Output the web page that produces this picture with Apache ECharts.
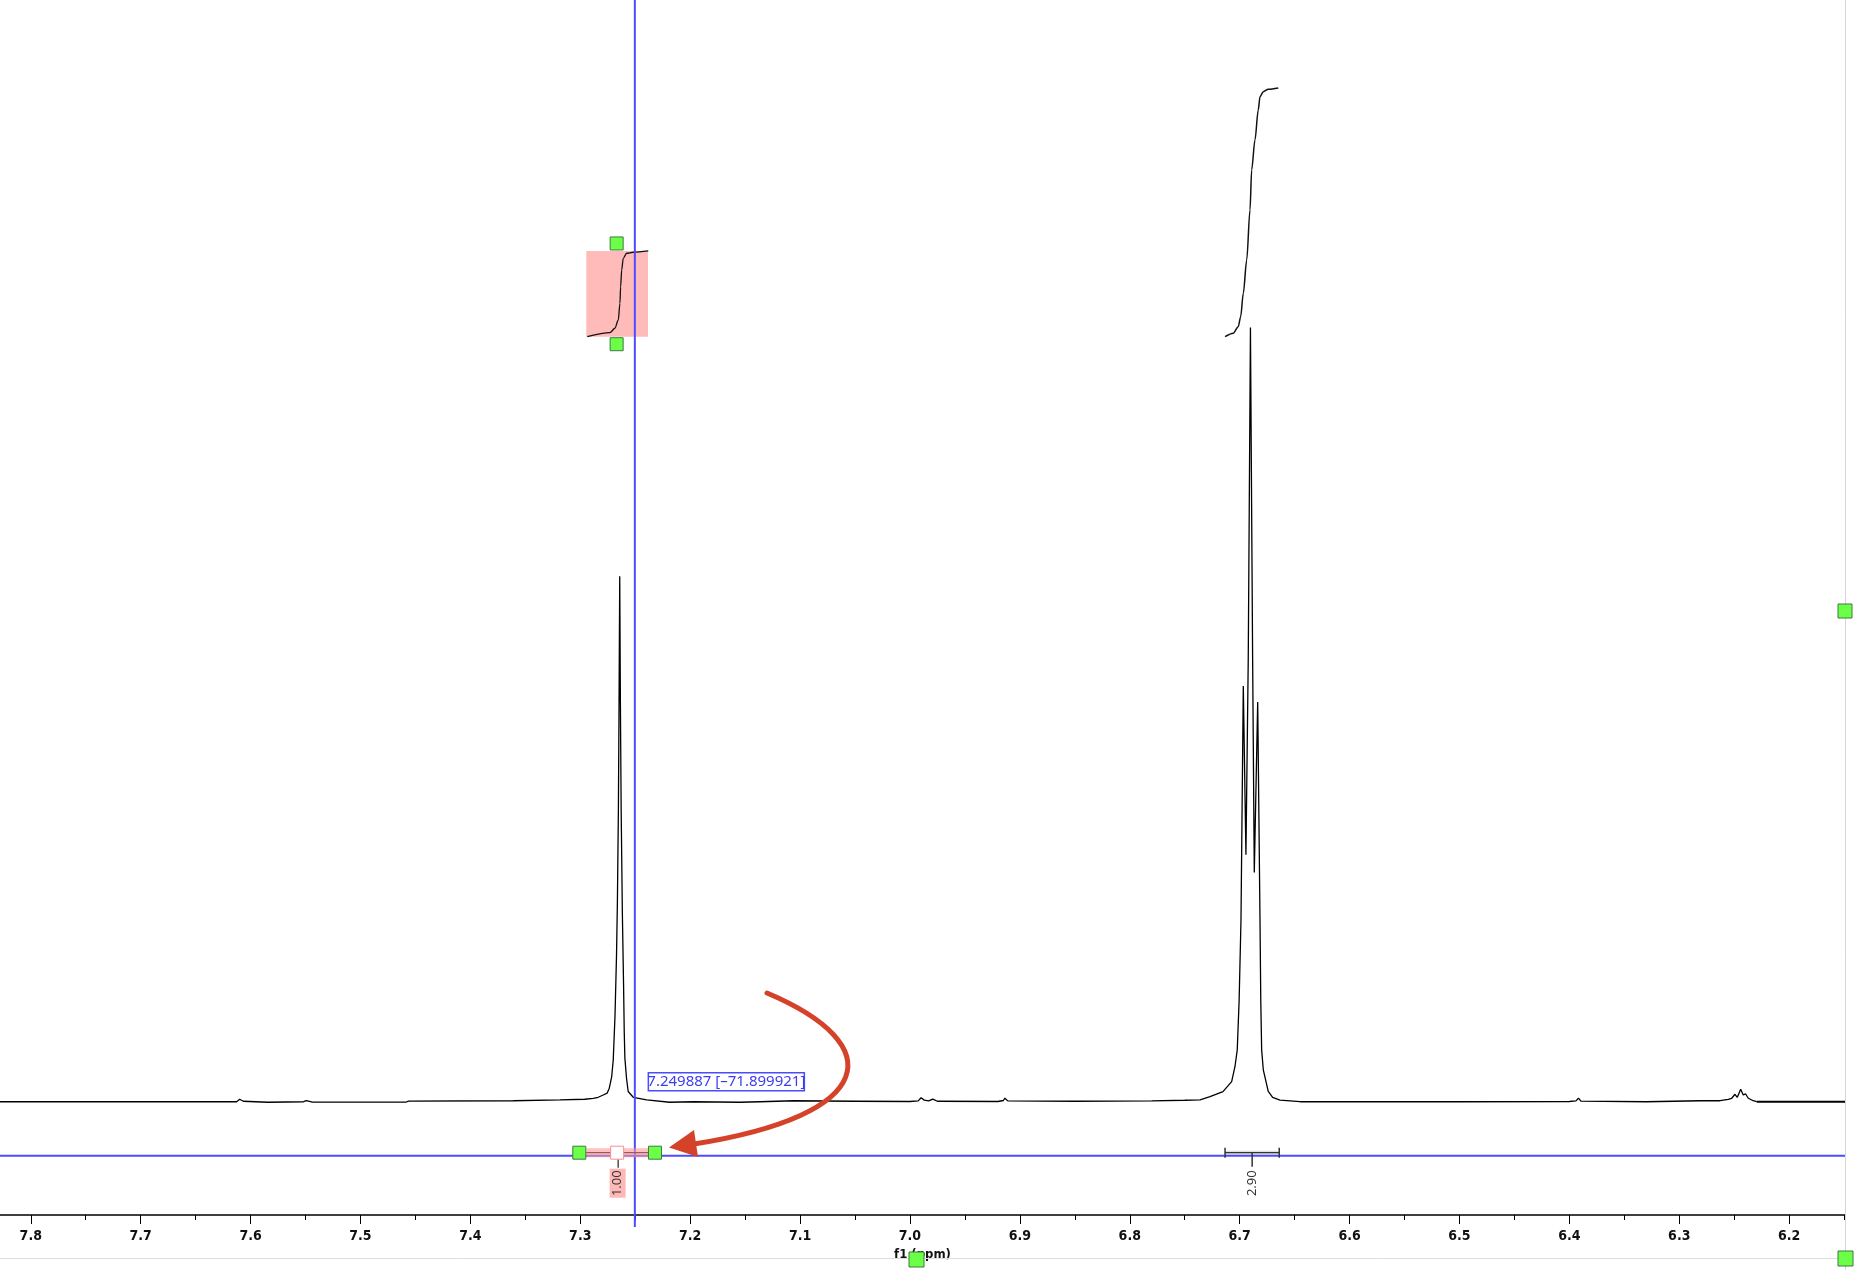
<!DOCTYPE html>
<html><head><meta charset="utf-8">
<script src="https://cdn.jsdelivr.net/npm/echarts@6/dist/echarts.min.js"></script>
<style>html,body{margin:0;padding:0;background:#fff}#c{width:1854px;height:1270px}</style>
</head><body><div id="c"></div>
<script>
// ---- data ----
const specPpm = [7.8280,7.7000,7.6127,7.6099,7.6066,7.5843,7.5518,7.5493,7.5437,7.4583,7.4563,7.3609,7.3185,7.2959,7.2882,7.2837,7.2791,7.2756,7.2736,7.2714,7.2700,7.2684,7.2670,7.2662,7.2653,7.2647,7.2641,7.2635,7.2628,7.2617,7.2606,7.2600,7.2594,7.2579,7.2564,7.2518,7.2396,7.2187,7.1972,7.1547,7.1365,7.1062,7.0500,7.0000,6.9925,6.9899,6.9870,6.9830,6.9792,6.9750,6.9200,6.9150,6.9136,6.9110,6.8500,6.7800,6.7500,6.7361,6.7270,6.7152,6.7073,6.7043,6.7022,6.7005,6.6988,6.6967,6.6943,6.6922,6.6902,6.6882,6.6867,6.6836,6.6815,6.6808,6.6800,6.6785,6.6740,6.6700,6.6633,6.6451,6.6000,6.5000,6.4000,6.3940,6.3917,6.3895,6.3300,6.2811,6.2629,6.2554,6.2523,6.2493,6.2472,6.2441,6.2418,6.2396,6.2372,6.2327,6.2296];
const specInt = [-1.6,-1.6,-1.6,1.6,-1.0,-2.3,-1.6,-0.3,-2.0,-2.0,-0.7,-0.3,0.7,1.6,2.9,4.2,7.2,9.5,16.0,31.2,52.8,110,190,260,380,520,683,520,380,244,150,90,55,28.7,11.7,4.2,0.7,-2.3,-1.6,-2.3,-1.6,-0.3,-1.0,-1.3,-0.5,3.5,0.5,-0.5,1.8,-1.0,-1.3,0.0,3.0,-0.5,-1.0,-0.5,0.3,0.8,5,11.5,24.5,44,66,130,235,540,320,574,1007,574,297,519,235,130,66,40,12,4,0.5,-1.6,-1.6,-1.6,-1.3,-0.5,3.0,-0.8,-1.6,-0.3,-0.3,1.6,2.9,8.1,4.2,14.6,7.2,8.5,2.9,-0.3,-1.6];
const tailPpm = [6.2296, 6.1492];
const tailInt = [-1.6, -1.6];

const int1Ppm = [7.2936,7.2730,7.2685,7.2654,7.2639,7.2633,7.2623,7.2609,7.2578,7.2518,7.2381];
const int1Val = [994.9,1000.1,1005.9,1016.7,1038.4,1060.0,1081.8,1097.0,1103.6,1104.9,1106.6];
const int2Ppm = [6.7133,6.7058,6.7013,6.6991,6.6967,6.6936,6.6906,6.6891,6.6861,6.6831,6.6815,6.6785,6.6740,6.6649];
const int2Val = [994.9,999.4,1008.0,1021.0,1051.5,1094.8,1160.0,1212.1,1251.0,1290.2,1307.6,1314.1,1317.2,1318.9];

const integralRanges = [[7.2945, 7.2384], [6.7133, 6.6640]];
const integralLabels = ['1.00', '2.90'];
const integralBox1 = [994.9, 1106.6];
const barLevel = -68;

const majorTicks = [7.8,7.7,7.6,7.5,7.4,7.3,7.2,7.1,7.0,6.9,6.8,6.7,6.6,6.5,6.4,6.3,6.2];
const minorTicks = [7.75,7.65,7.55,7.45,7.35,7.25,7.15,7.05,6.95,6.85,6.75,6.65,6.55,6.45,6.35,6.25,6.15];

const cursorPpm = 7.249887;
const cursorInt = -71.899921;
const cursorText = '7.249887 [–71.899921]';

const xMin = 6.1492, xMax = 7.828;
const yMin = -149.15, yMax = 1433.5;

// ---- chart ----
const zip = (a, b) => a.map((v, i) => [v, b[i]]);
const chart = echarts.init(document.getElementById('c'), null, {renderer: 'canvas'});
const axisFont = "'Liberation Sans Narrow','DejaVu Sans Condensed','Liberation Sans',sans-serif";

chart.setOption({
  animation: false,
  backgroundColor: '#fff',
  grid: {left: 0, right: 9, top: 0, bottom: 55, containLabel: false},
  xAxis: [{
    type: 'value', min: xMin, max: xMax, inverse: true, position: 'bottom',
    axisLine: {onZero: false, lineStyle: {color: '#000', width: 1.5}},
    axisTick: {show: true, customValues: majorTicks, length: 9, lineStyle: {color: '#000', width: 1}},
    axisLabel: {show: true, customValues: majorTicks, formatter: v => v.toFixed(1), margin: 14,
      fontSize: 14, fontWeight: 'bold', color: '#111', fontFamily: axisFont},
    splitLine: {show: false},
    name: 'f1 (ppm)', nameLocation: 'middle', nameGap: 26,
    nameTextStyle: {fontSize: 13, fontWeight: 'bold', color: '#111', fontFamily: axisFont}
  }, {
    type: 'value', min: xMin, max: xMax, inverse: true, position: 'bottom',
    axisLine: {show: false, onZero: false},
    axisTick: {show: true, customValues: minorTicks, length: 5, lineStyle: {color: '#000', width: 1}},
    axisLabel: {show: false}, splitLine: {show: false}
  }],
  yAxis: {type: 'value', min: yMin, max: yMax, show: false, splitLine: {show: false}},
  series: [
    {type: 'line', data: zip(specPpm, specInt), symbol: 'none', z: 3,
      lineStyle: {color: '#000', width: 1.3}},
    {type: 'line', data: zip(tailPpm, tailInt), symbol: 'none', z: 3,
      lineStyle: {color: '#000', width: 2.2}},
    {type: 'line', data: zip(int1Ppm, int1Val), symbol: 'none', smooth: 0.3, smoothMonotone: 'x', z: 3,
      lineStyle: {color: '#111', width: 1.3}},
    {type: 'line', data: zip(int2Ppm, int2Val), symbol: 'none', smooth: 0.3, smoothMonotone: 'x', z: 3,
      lineStyle: {color: '#111', width: 1.5}}
  ]
});

// ---- annotations anchored to the data scale ----
const P = (x, y) => chart.convertToPixel({seriesIndex: 0}, [x, y]);
const blue = '#4c4cff';
const green = '#6cff48', greenEdge = '#3d7a3d';
const g = [];
const [cX, cY] = P(cursorPpm, cursorInt);
const axisY = P(xMin, yMin)[1];
const plotRight = P(xMin, 0)[0];

// frame lines
g.push({type: 'line', z: 1, shape: {x1: plotRight + 0.5, y1: 0, x2: plotRight + 0.5, y2: 1270}, style: {stroke: '#d6d6d6', lineWidth: 1}});
g.push({type: 'line', z: 1, shape: {x1: 0, y1: 1258.5, x2: plotRight, y2: 1258.5}, style: {stroke: '#dedede', lineWidth: 1}});

// integral 1 highlight
const [rx1, ry1] = P(integralRanges[0][0], integralBox1[1]);
const [rx2, ry2] = P(integralRanges[0][1], integralBox1[0]);
g.push({type: 'rect', z: 1, shape: {x: rx1, y: ry1, width: rx2 - rx1, height: ry2 - ry1}, style: {fill: '#ffbaba'}});
const rMid = (rx1 + rx2) / 2;
g.push({type: 'rect', z: 25, shape: {x: rMid - 7, y: ry1 - 14, width: 13, height: 13}, style: {fill: green, stroke: greenEdge, lineWidth: 1}});
g.push({type: 'rect', z: 25, shape: {x: rMid - 7, y: ry2 + 1, width: 13, height: 13}, style: {fill: green, stroke: greenEdge, lineWidth: 1}});

// cursor crosshair
g.push({type: 'line', z: 20, shape: {x1: 0, y1: cY, x2: plotRight, y2: cY}, style: {stroke: blue, lineWidth: 2}});
g.push({type: 'line', z: 20, shape: {x1: cX - 0.5, y1: 0, x2: cX - 0.5, y2: axisY + 12}, style: {stroke: blue, lineWidth: 2}});
g.push({type: 'rect', z: 21, shape: {x: cX + 13, y: cY - 83, width: 156, height: 18}, style: {fill: '#fff', stroke: blue, lineWidth: 1.5}});
g.push({type: 'text', z: 22, x: cX + 13 + 78, y: cY - 74, style: {text: cursorText, fill: '#3c3cf0', fontSize: 15, fontFamily: "'Noto Sans','Liberation Sans',sans-serif", align: 'center', verticalAlign: 'middle'}});

// integration bars
integralRanges.forEach((r, i) => {
  const [xa, y] = P(r[0], barLevel);
  const xb = P(r[1], barLevel)[0];
  const mid = (xa + xb) / 2;
  if (i === 0) {
    g.push({type: 'line', z: 22, shape: {x1: xa, y1: y, x2: xb, y2: y}, style: {stroke: '#000', lineWidth: 1.2}});
    g.push({type: 'rect', z: 23, shape: {x: xa, y: y - 4.5, width: xb - xa, height: 9}, style: {fill: 'rgba(255,150,150,0.6)'}});
    g.push({type: 'rect', z: 25, shape: {x: xa - 13.5, y: y - 6.5, width: 13, height: 13}, style: {fill: green, stroke: greenEdge, lineWidth: 1}});
    g.push({type: 'rect', z: 25, shape: {x: xb + 0.5, y: y - 6.5, width: 13, height: 13}, style: {fill: green, stroke: greenEdge, lineWidth: 1}});
    g.push({type: 'rect', z: 25, shape: {x: mid - 6.5, y: y - 6.5, width: 13, height: 13}, style: {fill: '#fff', stroke: '#ff8c8c', lineWidth: 1}});
    g.push({type: 'line', z: 24, shape: {x1: mid + 1, y1: y + 6.5, x2: mid + 1, y2: y + 15}, style: {stroke: '#222', lineWidth: 1.2}});
    g.push({type: 'rect', z: 24, shape: {x: mid - 7.5, y: y + 16, width: 16, height: 29}, style: {fill: '#ffb8b8'}});
  } else {
    g.push({type: 'rect', z: 19, shape: {x: xa, y: y - 2, width: xb - xa, height: 4}, style: {fill: '#dedede'}});
    g.push({type: 'line', z: 22, shape: {x1: xa, y1: y, x2: xb, y2: y}, style: {stroke: '#333', lineWidth: 1.3}});
    g.push({type: 'line', z: 22, shape: {x1: xa, y1: y - 5, x2: xa, y2: y + 5}, style: {stroke: '#333', lineWidth: 1.5}});
    g.push({type: 'line', z: 22, shape: {x1: xb, y1: y - 5, x2: xb, y2: y + 5}, style: {stroke: '#333', lineWidth: 1.5}});
    g.push({type: 'line', z: 22, shape: {x1: mid, y1: y, x2: mid, y2: y + 14}, style: {stroke: '#333', lineWidth: 1.5}});
  }
  g.push({type: 'text', z: 26, x: mid + 0.5, y: y + 30.5, rotation: Math.PI / 2,
    style: {text: integralLabels[i], fill: '#333', fontSize: 13, fontFamily: "'Noto Sans','Liberation Sans',sans-serif", align: 'center', verticalAlign: 'middle'}});
});

// red arrow
const red = '#d4422a';
g.push({type: 'bezierCurve', z: 30, shape: {x1: 767, y1: 993, cpx1: 890, cpy1: 1045, cpx2: 878, cpy2: 1115, x2: 694, y2: 1144}, style: {stroke: red, lineWidth: 5, fill: null, lineCap: 'round'}});
g.push({type: 'polygon', z: 30, shape: {points: [[669, 1147.5], [694, 1130], [698, 1157]]}, style: {fill: red}});

// edge handles
g.push({type: 'rect', z: 25, shape: {x: 1838, y: 604, width: 14, height: 14}, style: {fill: green, stroke: greenEdge, lineWidth: 1}});
g.push({type: 'rect', z: 25, shape: {x: 1838, y: 1251, width: 15, height: 15}, style: {fill: green, stroke: greenEdge, lineWidth: 1}});
g.push({type: 'rect', z: 25, shape: {x: 909, y: 1252, width: 15, height: 15}, style: {fill: green, stroke: greenEdge, lineWidth: 1}});

chart.setOption({graphic: {elements: g}});
</script>
</body></html>
